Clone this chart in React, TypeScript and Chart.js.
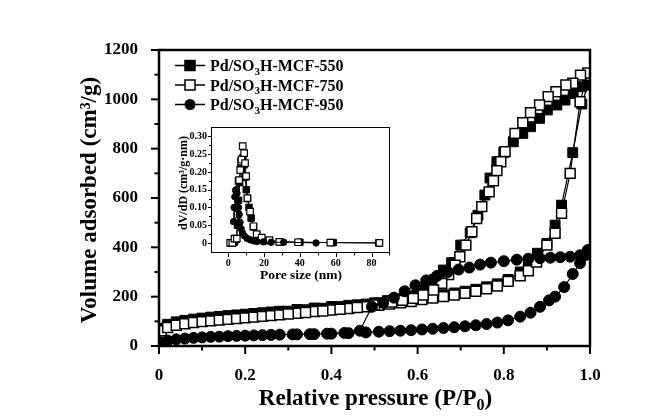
import React, { useEffect, useRef } from "react";
import { Chart, registerables } from "chart.js";

Chart.register(...registerables);

const FONT = '"Liberation Serif", "Times New Roman", serif';

// ---------- Main isotherm data (P/P0, cm3/g) ----------
const p550Ads = [0.005, 0.02, 0.04, 0.06, 0.08, 0.1, 0.12, 0.14, 0.16, 0.18, 0.2, 0.22, 0.24, 0.26, 0.28, 0.32, 0.36, 0.4, 0.44, 0.48, 0.51, 0.535, 0.56, 0.585, 0.61, 0.635, 0.66, 0.685, 0.71, 0.735, 0.76, 0.785, 0.81, 0.838, 0.857, 0.878, 0.9, 0.919, 0.934, 0.96, 0.981, 0.995];
const v550Ads = [72, 88, 98, 104, 109, 113, 117, 120, 123, 126, 129, 132, 135, 138, 141, 148, 154, 160, 165, 170, 175, 180, 185, 190, 196, 202, 208, 215, 222, 230, 240, 252, 270, 300, 321, 376, 416, 490, 571, 784, 981, 1058];
const p550Des = [0.981, 0.961, 0.942, 0.923, 0.901, 0.883, 0.862, 0.844, 0.822, 0.8, 0.784, 0.768, 0.756, 0.74, 0.722, 0.7, 0.679, 0.66, 0.64, 0.62, 0.6, 0.58, 0.555, 0.53, 0.5, 0.46, 0.42, 0.38, 0.34, 0.3];
const v550Des = [1051, 1024, 997, 977, 957, 923, 889, 862, 828, 785, 747, 681, 612, 530, 459, 409, 338, 308, 270, 240, 218, 203, 192, 184, 175, 167, 160, 153, 147, 141];

const p750Ads = [0.005, 0.02, 0.04, 0.06, 0.08, 0.1, 0.12, 0.14, 0.16, 0.18, 0.2, 0.22, 0.24, 0.26, 0.28, 0.32, 0.36, 0.4, 0.44, 0.48, 0.51, 0.535, 0.56, 0.585, 0.61, 0.635, 0.66, 0.685, 0.71, 0.735, 0.76, 0.785, 0.81, 0.838, 0.857, 0.876, 0.9, 0.919, 0.934, 0.954, 0.977, 0.995];
const v750Ads = [62, 75, 84, 90, 95, 99, 102, 105, 108, 111, 114, 117, 120, 123, 126, 133, 140, 146, 152, 159, 165, 170, 175, 180, 188, 194, 200, 207, 214, 222, 232, 243, 262, 285, 305, 340, 409, 457, 538, 700, 990, 1107];
const p750Des = [0.978, 0.96, 0.944, 0.921, 0.903, 0.883, 0.862, 0.844, 0.826, 0.803, 0.793, 0.784, 0.776, 0.766, 0.749, 0.737, 0.726, 0.712, 0.698, 0.687, 0.672, 0.656, 0.637, 0.613, 0.59, 0.565, 0.54, 0.5, 0.46, 0.42, 0.38, 0.34, 0.3];
const v750Des = [1098, 1065, 1058, 1031, 1011, 977, 946, 905, 862, 788, 747, 711, 670, 625, 565, 517, 463, 409, 362, 328, 290, 254, 227, 207, 193, 185, 178, 166, 156, 149, 142, 136, 130];

const p950Ads = [0.005, 0.02, 0.04, 0.06, 0.08, 0.1, 0.12, 0.14, 0.16, 0.18, 0.2, 0.22, 0.24, 0.26, 0.28, 0.32, 0.36, 0.4, 0.44, 0.48, 0.51, 0.535, 0.56, 0.585, 0.61, 0.635, 0.66, 0.685, 0.71, 0.735, 0.76, 0.785, 0.81, 0.838, 0.862, 0.884, 0.905, 0.919, 0.94, 0.96, 0.977, 0.99];
const v950Ads = [15, 22, 27, 30, 33, 35, 37, 38, 40, 41, 42, 43, 44, 45, 46, 47, 48, 50, 52, 55, 58, 60, 62, 64, 67, 70, 73, 76, 80, 84, 89, 95, 104, 119, 135, 159, 185, 200, 239, 292, 336, 369];
const p950Des = [0.995, 0.977, 0.954, 0.931, 0.908, 0.884, 0.857, 0.83, 0.8, 0.77, 0.745, 0.72, 0.695, 0.67, 0.645, 0.62, 0.595, 0.57, 0.545, 0.52, 0.494, 0.466, 0.43, 0.39, 0.35, 0.31];
const v950Des = [389, 368, 362, 360, 358, 356, 354, 350, 344, 338, 330, 318, 310, 300, 284, 266, 246, 222, 196, 175, 159, 62, 53, 50, 48, 47];

// ---------- Inset pore size distribution (nm, cm3/g.nm) ----------
const d550 = [1.5, 2.5, 3.5, 4.5, 5.2, 5.8, 6.4, 7.0, 7.6, 8.2, 8.8, 9.4, 10.1, 10.8, 11.6, 12.8, 14.1, 15.9, 18.5, 23, 29, 40, 58.6, 84];
const dv550 = [0, 0, 0.003, 0.01, 0.05, 0.12, 0.17, 0.21, 0.235, 0.24, 0.22, 0.185, 0.15, 0.125, 0.1, 0.07, 0.045, 0.024, 0.012, 0.006, 0.003, 0.002, 0.001, 0];
const d750 = [1.1, 2.3, 3.5, 4.8, 5.3, 5.8, 6.1, 6.7, 7.2, 7.4, 8.1, 8.9, 9.4, 10.0, 10.7, 12.2, 14.1, 15.9, 18.7, 23, 28.5, 39, 57, 84.4];
const dv750 = [0, 0, 0.012, 0.012, 0.08, 0.175, 0.177, 0.205, 0.229, 0.235, 0.273, 0.253, 0.225, 0.188, 0.126, 0.088, 0.047, 0.025, 0.015, 0.008, 0.003, 0.002, 0.001, 0];
const d950 = [3.0, 3.3, 3.7, 4.1, 4.5, 4.9, 5.3, 5.7, 6.1, 6.6, 7.2, 8.0, 9.0, 10.5, 12.2, 14, 16, 19.6, 24, 31, 49];
const dv950 = [0.06, 0.1, 0.13, 0.148, 0.15, 0.14, 0.12, 0.1, 0.08, 0.058, 0.04, 0.028, 0.02, 0.013, 0.009, 0.006, 0.004, 0.003, 0.002, 0.002, 0];

// ---------- Labels ----------
const mainXTicks = [0, 0.2, 0.4, 0.6, 0.8, 1.0];
const mainYTicks = [0, 200, 400, 600, 800, 1000, 1200];
const insetXTicks = [0, 20, 40, 60, 80];
const insetYTicks = [0, 0.05, 0.1, 0.15, 0.2, 0.25, 0.3];
const insetYTickLabels = ["0", "0.05", "0.10", "0.15", "0.20", "0.25", "0.30"];
const legendNames = [
  ["Pd/SO", "3", "H-MCF-550"],
  ["Pd/SO", "3", "H-MCF-750"],
  ["Pd/SO", "3", "H-MCF-950"],
];
const xTitleParts = ["Relative pressure (P/P", "0", ")"];
const yTitle = "Volume adsorbed (cm\u00b3/g)";
const insetXTitle = "Pore size (nm)";
const insetYTitle = "dV/dD (cm\u00b3/g\u00b7nm)";

const zip = (xs: number[], ys: number[]) => xs.map((x, i) => ({ x, y: ys[i] }));

function drawRich(ctx: CanvasRenderingContext2D, parts: string[], x: number, y: number, size: number, align: "left" | "center") {
  const big = `bold ${size}px ${FONT}`;
  const small = `bold ${Math.round(size * 0.68)}px ${FONT}`;
  const widths = parts.map((p, i) => {
    ctx.font = i % 2 === 1 ? small : big;
    return ctx.measureText(p).width;
  });
  const total = widths.reduce((a, b) => a + b, 0);
  let cx = align === "center" ? x - total / 2 : x;
  ctx.textAlign = "left";
  ctx.textBaseline = "alphabetic";
  parts.forEach((p, i) => {
    ctx.font = i % 2 === 1 ? small : big;
    ctx.fillText(p, cx, i % 2 === 1 ? y + size * 0.22 : y);
    cx += widths[i];
  });
}

const mainDecor = {
  id: "mainDecor",
  afterDraw(chart: any) {
    const ctx: CanvasRenderingContext2D = chart.ctx;
    const a = chart.chartArea;
    const xs = chart.scales.x;
    const ys = chart.scales.y;
    ctx.save();
    ctx.strokeStyle = "#000";
    ctx.fillStyle = "#000";
    ctx.lineWidth = 2.5;
    ctx.strokeRect(a.left, a.top, a.right - a.left, a.bottom - a.top);
    ctx.lineWidth = 2;
    for (let i = 0; i <= 10; i++) {
      const px = xs.getPixelForValue(i / 10);
      const len = i % 2 === 0 ? 8 : 4.5;
      ctx.beginPath();
      ctx.moveTo(px, a.bottom);
      ctx.lineTo(px, a.bottom + len);
      ctx.stroke();
    }
    for (let i = 0; i <= 12; i++) {
      const py = ys.getPixelForValue(i * 100);
      const len = i % 2 === 0 ? 8 : 4.5;
      ctx.beginPath();
      ctx.moveTo(a.left, py);
      ctx.lineTo(a.left - len, py);
      ctx.stroke();
    }
    drawRich(ctx, xTitleParts, (a.left + a.right) / 2 + 1, 405, 23, "center");
    ctx.save();
    ctx.translate(90, (a.top + a.bottom) / 2 + 2);
    ctx.rotate(-Math.PI / 2);
    ctx.font = `bold 23px ${FONT}`;
    ctx.textAlign = "center";
    ctx.textBaseline = "middle";
    ctx.fillText(yTitle, 0, 0);
    ctx.restore();
    const baselines = [71, 90.5, 110];
    baselines.forEach((b, i) => {
      const my = b - 5.5;
      ctx.lineWidth = 1.5;
      ctx.beginPath();
      ctx.moveTo(175, my);
      ctx.lineTo(205, my);
      ctx.stroke();
      if (i === 2) {
        ctx.beginPath();
        ctx.arc(190, my, 5.5, 0, Math.PI * 2);
        ctx.fill();
      } else {
        ctx.fillStyle = i === 0 ? "#000" : "#fff";
        ctx.fillRect(185, my - 5, 10, 10);
        ctx.strokeRect(185, my - 5, 10, 10);
        ctx.fillStyle = "#000";
      }
      drawRich(ctx, legendNames[i], 210, b, 16, "left");
    });
    ctx.restore();
  },
};

const insetDecor = {
  id: "insetDecor",
  afterDraw(chart: any) {
    const ctx: CanvasRenderingContext2D = chart.ctx;
    const a = chart.chartArea;
    const xs = chart.scales.x;
    const ys = chart.scales.y;
    ctx.save();
    ctx.strokeStyle = "#000";
    ctx.fillStyle = "#000";
    ctx.lineWidth = 1;
    ctx.strokeRect(a.left + 0.5, a.top + 0.5, a.right - a.left - 1, a.bottom - a.top - 1);
    for (let v = 0; v <= 90; v += 10) {
      const px = Math.round(xs.getPixelForValue(v)) + 0.5;
      const len = v % 20 === 0 ? 4 : 2.5;
      ctx.beginPath();
      ctx.moveTo(px, a.bottom);
      ctx.lineTo(px, a.bottom + len);
      ctx.stroke();
    }
    for (let i = 0; i <= 12; i++) {
      const py = Math.round(ys.getPixelForValue(i * 0.025)) + 0.5;
      const len = i % 2 === 0 ? 3 : 2;
      ctx.beginPath();
      ctx.moveTo(a.left, py);
      ctx.lineTo(a.left - len, py);
      ctx.stroke();
    }
    // tick labels
    ctx.font = `bold 10px ${FONT}`;
    ctx.textAlign = "center";
    ctx.textBaseline = "middle";
    insetXTicks.forEach((v) => {
      ctx.fillText(String(v), xs.getPixelForValue(v), a.bottom + 10);
    });
    ctx.textAlign = "right";
    insetYTicks.forEach((v, i) => {
      ctx.fillText(insetYTickLabels[i], a.left - 4, ys.getPixelForValue(v));
    });
    // titles
    ctx.font = `bold 13.5px ${FONT}`;
    ctx.textAlign = "center";
    ctx.textBaseline = "middle";
    ctx.fillText(insetXTitle, 151, 166);
    ctx.save();
    ctx.translate(34, 73);
    ctx.rotate(-Math.PI / 2);
    ctx.font = `bold 12px ${FONT}`;
    ctx.fillText(insetYTitle, 0, 0);
    ctx.restore();
    ctx.restore();
  },
};

export default function App() {
  const mainRef = useRef<HTMLCanvasElement>(null);
  const insetRef = useRef<HTMLCanvasElement>(null);

  useEffect(() => {
    if (!mainRef.current || !insetRef.current) return;
    const tickFont = { family: FONT, size: 17, weight: "bold" as const };
    const main = new Chart(mainRef.current, {
      type: "scatter",
      data: {
        datasets: [
          {
            label: "550",
            data: [...zip(p550Ads, v550Ads), ...zip(p550Des, v550Des)],
            showLine: true,
            borderColor: "#000",
            borderWidth: 1.2,
            pointStyle: "rect",
            pointRadius: 7,
            pointBackgroundColor: "#000",
            pointBorderColor: "#000",
            pointBorderWidth: 1,
            order: 3,
          },
          {
            label: "750",
            data: [...zip(p750Ads, v750Ads), ...zip(p750Des, v750Des)],
            showLine: true,
            borderColor: "#000",
            borderWidth: 1.2,
            pointStyle: "rect",
            pointRadius: 7,
            pointBackgroundColor: "#fff",
            pointBorderColor: "#000",
            pointBorderWidth: 1.5,
            order: 2,
          },
          {
            label: "950",
            data: [...zip(p950Ads, v950Ads), ...zip(p950Des, v950Des)],
            showLine: true,
            borderColor: "#000",
            borderWidth: 1.2,
            pointStyle: "circle",
            pointRadius: 5.5,
            pointBackgroundColor: "#000",
            pointBorderColor: "#000",
            pointBorderWidth: 1,
            order: 1,
          },
        ],
      },
      options: {
        animation: false,
        responsive: false,
        maintainAspectRatio: false,
        events: [],
        layout: { padding: { top: 50, right: 74, left: 0, bottom: 0 } },
        plugins: { legend: { display: false }, tooltip: { enabled: false } },
        scales: {
          x: {
            type: "linear",
            min: 0,
            max: 1,
            grid: { display: false },
            border: { display: false },
            afterBuildTicks: (s: any) => {
              s.ticks = mainXTicks.map((v) => ({ value: v }));
            },
            ticks: {
              color: "#000",
              font: tickFont,
              padding: 11,
              maxRotation: 0,
              autoSkip: false,
              callback: (v: any) => (Number(v) === 0 ? "0" : Number(v).toFixed(1)),
            },
            afterFit: (s: any) => {
              s.height = 74;
            },
          },
          y: {
            type: "linear",
            min: 0,
            max: 1200,
            grid: { display: false },
            border: { display: false },
            afterBuildTicks: (s: any) => {
              s.ticks = mainYTicks.map((v) => ({ value: v }));
            },
            ticks: {
              color: "#000",
              font: tickFont,
              padding: 13,
              autoSkip: false,
              callback: (v: any) => String(Math.round(Number(v))),
            },
            afterFit: (s: any) => {
              s.width = 159;
            },
          },
        },
      },
      plugins: [mainDecor],
    });

    const inset = new Chart(insetRef.current, {
      type: "scatter",
      data: {
        datasets: [
          {
            label: "550",
            data: zip(d550, dv550),
            showLine: true,
            borderColor: "#000",
            borderWidth: 1,
            pointStyle: "rect",
            pointRadius: 4.6,
            pointBackgroundColor: "#000",
            pointBorderColor: "#000",
            pointBorderWidth: 1,
            order: 3,
          },
          {
            label: "750",
            data: zip(d750, dv750),
            showLine: true,
            borderColor: "#000",
            borderWidth: 1,
            pointStyle: "rect",
            pointRadius: 4.6,
            pointBackgroundColor: "#fff",
            pointBorderColor: "#000",
            pointBorderWidth: 1.2,
            order: 2,
          },
          {
            label: "950",
            data: zip(d950, dv950),
            showLine: true,
            borderColor: "#000",
            borderWidth: 1,
            pointStyle: "circle",
            pointRadius: 3.2,
            pointBackgroundColor: "#000",
            pointBorderColor: "#000",
            pointBorderWidth: 1,
            order: 1,
          },
        ],
      },
      options: {
        animation: false,
        responsive: false,
        maintainAspectRatio: false,
        events: [],
        layout: { padding: { top: 17, right: 20, left: 0, bottom: 0 } },
        plugins: { legend: { display: false }, tooltip: { enabled: false } },
        scales: {
          x: {
            type: "linear",
            min: -9.6,
            max: 90.3,
            grid: { display: false },
            border: { display: false },
            ticks: { display: false },
            afterFit: (s: any) => {
              s.height = 47;
            },
          },
          y: {
            type: "linear",
            min: -0.0283,
            max: 0.3266,
            grid: { display: false },
            border: { display: false },
            ticks: { display: false },
            afterFit: (s: any) => {
              s.width = 61;
            },
          },
        },
      },
      plugins: [insetDecor],
    });

    return () => {
      main.destroy();
      inset.destroy();
    };
  }, []);

  return (
    <div style={{ position: "absolute", left: 0, top: 0, width: 664, height: 420, background: "#fff" }}>
      <canvas ref={mainRef} width={664} height={420} style={{ position: "absolute", left: 0, top: 0, width: 664, height: 420 }} />
      <canvas ref={insetRef} width={260} height={190} style={{ position: "absolute", left: 150, top: 110, width: 260, height: 190 }} />
    </div>
  );
}
